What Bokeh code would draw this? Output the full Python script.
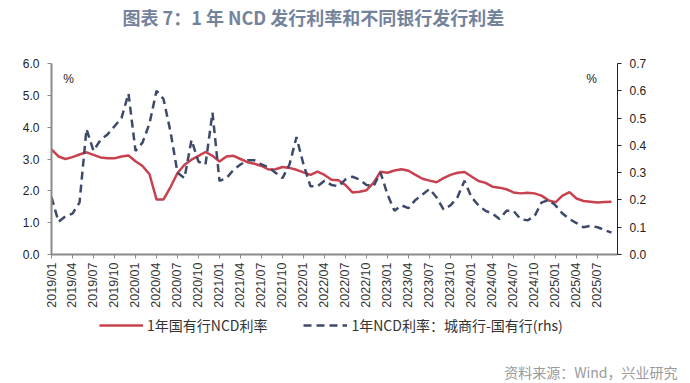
import math
from bokeh.plotting import figure
from bokeh.layouts import column
from bokeh.models import (Range1d, LinearAxis, FixedTicker, PrintfTickFormatter,
                          Legend, LegendItem, Label, Title, ColumnDataSource)
from bokeh.embed import file_html
from bokeh.resources import INLINE

# ---------------- data ----------------
months = [f"{2019 + i // 12}/{i % 12 + 1:02d}" for i in range(81)]  # 2019/01 .. 2025/09

# 1年国有行NCD利率 (%)
rate_big = [
    3.30, 3.08, 3.00, 3.06, 3.14, 3.21, 3.13, 3.05, 3.02, 3.02,
    3.08, 3.11, 2.93, 2.78, 2.52, 1.73, 1.73, 2.12, 2.56, 2.82,
    2.98, 3.10, 3.22, 3.10, 2.92, 3.08, 3.10, 3.00, 2.90, 2.85,
    2.78, 2.67, 2.68, 2.75, 2.72, 2.66, 2.58, 2.50, 2.60, 2.50,
    2.35, 2.33, 2.18, 1.95, 1.97, 2.02, 2.25, 2.60, 2.57, 2.64,
    2.68, 2.63, 2.50, 2.38, 2.32, 2.27, 2.40, 2.50, 2.57, 2.59,
    2.45, 2.31, 2.25, 2.13, 2.10, 2.05, 1.95, 1.92, 1.94, 1.92,
    1.85, 1.70, 1.64, 1.85, 1.96, 1.76, 1.68, 1.66, 1.63, 1.65,
    1.66,
]

# 1年NCD利率：城商行-国有行 (%, rhs)
spread_city = [
    0.21, 0.12, 0.14, 0.15, 0.19, 0.46, 0.38, 0.42, 0.44, 0.47,
    0.50, 0.59, 0.38, 0.41, 0.48, 0.60, 0.57, 0.45, 0.30, 0.28,
    0.42, 0.34, 0.33, 0.52, 0.27, 0.28, 0.31, 0.33, 0.345, 0.345,
    0.33, 0.32, 0.30, 0.28, 0.33, 0.43, 0.33, 0.25, 0.25, 0.27,
    0.255, 0.25, 0.275, 0.285, 0.275, 0.255, 0.25, 0.30, 0.22, 0.16,
    0.18, 0.17, 0.20, 0.22, 0.24, 0.21, 0.165, 0.18, 0.21, 0.27,
    0.21, 0.18, 0.16, 0.15, 0.13, 0.16, 0.16, 0.13, 0.125, 0.14,
    0.19, 0.20, 0.18, 0.15, 0.13, 0.115, 0.10, 0.105, 0.10, 0.09,
    0.08,
]

tick_idx = list(range(0, 79, 3))
tick_labels = [months[i] for i in tick_idx]
left_ticks = [0, 1, 2, 3, 4, 5, 6]
right_ticks = [0.0, 0.1, 0.2, 0.3, 0.4, 0.5, 0.6, 0.7]

title_text = "图表 7：1 年 NCD 发行利率和不同银行发行利差"
source_text = "资料来源：Wind，兴业研究"
label_big = "1年国有行NCD利率"
label_spread = "1年NCD利率：城商行-国有行(rhs)"

# ---------------- styles ----------------
CJK = "Noto Sans CJK SC"
NUM = "Liberation Sans"
RED = "#c9404e"
NAVY = "#3d4a6a"
W = 688


def strip(height, bottom_border=0):
    f = figure(width=W, height=height, output_backend="svg", toolbar_location=None,
               x_range=Range1d(0, 10), y_range=Range1d(0, 10),
               x_axis_location=None, y_axis_location=None,
               min_border_left=51, min_border_right=71, min_border_top=0,
               min_border_bottom=bottom_border)
    f.outline_line_color = None
    f.xgrid.visible = False
    f.ygrid.visible = False
    return f


# ---------------- title strip ----------------
top = strip(40)
top.add_layout(Label(x=71, y=24, x_units="screen", y_units="screen", text=title_text,
                     text_font=CJK, text_font_size="18px", text_font_style="bold",
                     text_color="#74839c", text_align="left", text_baseline="middle"))

# ---------------- main chart ----------------
src = ColumnDataSource(dict(x=list(range(len(months))), big=rate_big, spread=spread_city))

p = figure(width=W, height=277, output_backend="svg", toolbar_location=None,
           x_range=Range1d(0, 80.86), y_range=Range1d(0, 6),
           min_border_left=51, min_border_right=71, min_border_top=23, min_border_bottom=63)
p.extra_y_ranges = {"rhs": Range1d(0, 0.7)}
p.outline_line_color = None
p.xgrid.visible = False
p.ygrid.visible = False

p.line("x", "big", source=src, line_color=RED, line_width=2.5)
p.line("x", "spread", source=src, y_range_name="rhs", line_color=NAVY,
       line_width=2.5, line_dash="8 5")

xa = p.xaxis[0]
xa.ticker = FixedTicker(ticks=tick_idx, minor_ticks=[])
xa.major_label_overrides = {i: lab for i, lab in zip(tick_idx, tick_labels)}
xa.major_label_orientation = math.pi / 2
xa.major_label_text_font = NUM
xa.major_label_text_font_size = "12.5px"
xa.major_label_text_color = "#333333"
xa.axis_line_color = "#8a8a8a"
xa.axis_line_width = 2
xa.major_tick_line_color = "#8a8a8a"
xa.major_tick_in = 0
xa.major_tick_out = 4
xa.minor_tick_line_color = None
xa.major_label_standoff = 4

ya = p.yaxis[0]
ya.ticker = FixedTicker(ticks=left_ticks, minor_ticks=[])
ya.formatter = PrintfTickFormatter(format="%.1f")
ya.major_label_text_font = NUM
ya.major_label_text_font_size = "12px"
ya.major_label_text_color = "#222222"
ya.axis_line_color = "#8a8a8a"
ya.axis_line_width = 2
ya.major_tick_line_color = "#8a8a8a"
ya.major_tick_in = 0
ya.major_tick_out = 4
ya.minor_tick_line_color = None
ya.major_label_standoff = 8

ra = LinearAxis(y_range_name="rhs", ticker=FixedTicker(ticks=right_ticks, minor_ticks=[]),
                formatter=PrintfTickFormatter(format="%.1f"))
ra.major_label_text_font = NUM
ra.major_label_text_font_size = "12px"
ra.major_label_text_color = "#222222"
ra.axis_line_color = "#222222"
ra.axis_line_width = 1
ra.major_tick_line_color = "#222222"
ra.major_tick_in = 0
ra.major_tick_out = 4
ra.minor_tick_line_color = None
ra.major_label_standoff = 8
p.add_layout(ra, "right")

p.add_layout(Label(x=17, y=176, x_units="screen", y_units="screen", text="%",
                   text_font=NUM, text_font_size="12px", text_color="#222222",
                   text_align="center", text_baseline="middle"))
p.add_layout(Label(x=540, y=176, x_units="screen", y_units="screen", text="%",
                   text_font=NUM, text_font_size="12px", text_color="#222222",
                   text_align="center", text_baseline="middle"))

# ---------------- legend + source strip ----------------
bot = strip(64, bottom_border=20)
# legend-only renderers: their points lie outside the strip's visible range
lg_big = bot.line(x=[-20, -10], y=[-20, -20], line_color=RED, line_width=2.5)
lg_spread = bot.line(x=[-20, -10], y=[-20, -20], line_color=NAVY, line_width=2.5,
                     line_dash="8 5")
legend = Legend(items=[LegendItem(label=label_big, renderers=[lg_big]),
                       LegendItem(label=label_spread, renderers=[lg_spread])],
                orientation="horizontal", location=(48, 24),
                label_text_font=CJK, label_text_font_size="14px", label_text_color="#333333",
                glyph_width=44, glyph_height=20, label_standoff=4, spacing=36,
                padding=0, margin=0, border_line_color=None, background_fill_alpha=0)
bot.add_layout(legend)
bot.add_layout(Title(text=source_text, align="right", offset=-60, standoff=0,
                     text_font=CJK, text_font_size="14px", text_font_style="normal",
                     text_color="#9a9a9a"), "below")

layout = column(top, p, bot, spacing=0)
open("out.html", "w").write(file_html(layout, INLINE))
